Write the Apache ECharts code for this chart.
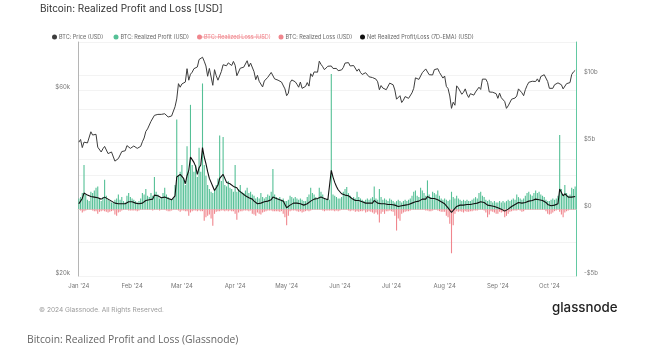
<!DOCTYPE html>
<html><head><meta charset="utf-8">
<script src="https://cdn.jsdelivr.net/npm/echarts@6/dist/echarts.min.js"></script>
<style>html,body{margin:0;padding:0;background:#fff;}#c{width:654px;height:361px;}</style>
</head><body><div id="c"></div>
<script>
// ---- data ----
const startDate = '2024-01-01';
const dayCount = 290; // Jan 1 .. Oct 16, 2024
const monthLabels = ["Jan '24","Feb '24","Mar '24","Apr '24","May '24","Jun '24","Jul '24","Aug '24","Sep '24","Oct '24"];
const priceTicks = [20, 60];          // $k, left log axis labels
const priceGrid = [20, 40, 60, 80];   // $k, left axis grid lines
const flowTicks = [-5, 0, 5, 10];     // $b, right axis labels

// BTC price ($k)
const price = [
44.2,44.9,42.8,44.2,44.2,44.0,43.9,47.0,46.1,46.6,46.3,42.9,42.8,41.7,42.5,43.1,42.7,41.3,41.6,41.7,41.6,39.5,39.8,40.1,40.0,41.8,42.1,42.0,43.3,42.9,42.6,
43.1,43.2,43.0,42.6,42.7,43.1,44.3,45.3,47.1,47.8,48.3,50.0,49.7,51.8,51.9,52.1,51.6,52.1,51.8,52.3,51.9,51.3,50.7,51.6,51.7,54.5,57.1,62.5,61.2,
62.4,62.0,63.1,68.3,63.8,66.1,66.9,68.3,68.5,69.0,72.1,71.5,73.1,71.4,69.4,65.3,68.4,67.6,61.9,67.9,65.5,63.8,64.0,67.2,69.9,69.9,69.5,70.7,69.9,69.6,71.3,
69.7,65.5,66.0,68.5,67.8,68.9,69.4,71.6,69.1,70.6,70.0,67.1,64.0,65.7,63.4,63.8,61.3,63.5,63.8,64.9,64.9,66.8,66.4,64.3,64.5,63.8,63.4,63.1,63.8,60.6,
58.2,59.1,62.9,63.9,64.0,63.2,62.3,61.2,63.1,60.8,60.8,61.5,62.9,61.6,66.3,65.2,67.0,67.0,66.9,71.4,70.1,69.1,67.9,68.5,69.3,68.5,69.4,68.4,67.6,68.4,67.5,
67.7,67.8,68.8,70.6,71.1,70.8,69.4,69.3,69.6,69.5,67.3,68.2,66.8,66.0,66.2,66.7,66.5,65.1,64.9,64.8,64.1,64.2,63.2,60.3,61.8,60.9,61.6,60.3,60.9,62.7,
62.9,62.1,60.2,57.0,56.7,58.2,55.9,56.7,57.9,57.7,57.3,57.9,59.2,60.8,64.7,65.0,64.1,63.9,66.7,67.2,68.2,67.6,65.9,65.4,65.8,67.9,68.2,68.3,66.8,66.2,64.6,
65.4,61.5,60.7,58.1,54.0,56.0,55.0,61.7,60.9,61.0,58.7,59.4,60.6,58.7,57.6,58.9,59.5,58.4,59.5,59.0,61.2,60.4,64.2,64.2,64.2,62.9,59.5,59.0,59.4,59.1,58.9,
57.3,59.1,57.5,58.0,56.2,54.0,54.8,54.9,57.0,57.6,57.4,58.1,60.6,60.0,59.2,58.2,60.3,61.8,63.0,63.2,63.4,63.6,63.3,64.3,63.1,65.2,65.8,65.9,65.6,63.3,
60.8,60.6,60.8,62.1,62.1,62.8,62.2,62.1,60.6,60.3,62.5,63.2,62.9,66.0,67.0,67.6
];

// Realized profit ($b)
const realizedProfit = [
0.8,0.9,1.2,3.3,1.1,0.7,0.6,1.3,1.2,1.4,1.6,1.7,0.8,0.6,0.9,2.2,1.0,0.7,0.6,0.5,0.5,0.7,0.8,1.1,0.7,0.9,0.6,0.5,1.0,1.2,0.9,
0.8,0.7,0.6,0.5,0.6,0.8,1.2,1.1,1.5,1.0,0.9,1.2,1.0,2.4,1.3,1.1,0.8,0.9,1.2,1.6,1.1,0.9,0.8,0.7,0.8,1.8,6.7,2.5,2.8,
3.3,2.3,1.8,4.7,2.8,7.8,3.3,2.8,3.3,2.4,4.6,2.8,9.4,3.3,2.5,1.8,1.5,1.3,1.2,1.5,1.8,2.3,5.5,2.1,5.4,1.8,1.7,2.1,1.6,1.5,1.3,
3.3,1.3,1.5,1.8,1.3,1.2,1.4,1.6,1.2,1.3,1.1,1.0,0.8,0.9,0.8,1.2,0.9,0.8,0.9,1.1,1.0,1.3,3.0,1.1,0.9,0.8,0.9,0.7,0.8,0.6,
0.6,0.7,1.0,0.9,0.8,0.9,0.8,0.7,0.8,0.7,0.6,0.6,0.9,1.1,1.6,1.2,1.1,0.9,0.8,1.6,1.3,1.1,0.8,0.7,0.8,0.7,10.1,1.1,1.0,0.9,0.8,
0.8,0.9,1.3,1.5,1.65,1.2,1.0,0.8,0.9,0.8,1.3,0.9,0.8,0.7,0.6,0.7,0.8,0.7,0.8,0.9,1.7,0.8,0.7,1.5,0.9,0.7,0.8,0.7,0.6,0.8,
0.7,0.6,0.5,0.6,0.7,0.6,0.5,0.6,0.7,0.6,0.7,0.8,1.0,1.3,1.4,1.0,0.9,1.6,1.4,1.2,1.0,2.15,1.1,0.9,1.3,1.2,1.1,1.4,1.0,0.8,0.7,
0.8,0.7,0.6,0.7,1.3,0.9,0.8,1.0,0.8,0.7,0.6,0.7,0.6,0.7,0.6,0.6,0.7,0.8,0.9,0.8,1.2,1.3,1.0,0.9,0.7,0.6,0.7,0.6,0.5,0.6,0.5,
0.5,0.6,0.5,0.6,0.5,0.6,0.7,0.6,0.7,0.8,0.7,1.1,0.9,0.8,0.7,0.8,1.0,1.2,1.3,1.1,1.0,1.2,1.4,1.2,1.3,1.1,1.0,0.9,0.7,0.6,
0.6,0.7,0.8,0.7,0.8,1.0,5.55,1.5,1.1,1.8,1.2,1.0,1.1,1.6,1.5,1.7
];

// Realized loss ($b, negative)
const realizedLoss = [
-0.05,-0.1,-0.25,-0.15,-0.1,-0.05,-0.05,-0.05,-0.1,-0.15,-0.15,-0.35,-0.2,-0.15,-0.1,-0.15,-0.2,-0.25,-0.2,-0.15,-0.1,-0.4,-0.5,-0.25,-0.2,-0.1,-0.05,-0.05,-0.05,-0.1,-0.1,
-0.1,-0.1,-0.1,-0.15,-0.1,-0.05,-0.05,-0.05,-0.05,-0.05,-0.05,-0.05,-0.1,-0.05,-0.05,-0.05,-0.1,-0.05,-0.05,-0.05,-0.1,-0.15,-0.15,-0.1,-0.05,-0.05,-0.05,-0.1,-0.2,
-0.1,-0.1,-0.15,-0.15,-0.5,-0.25,-0.15,-0.1,-0.1,-0.15,-0.1,-0.15,-0.15,-0.86,-0.6,-0.5,-0.4,-0.7,-1.25,-0.35,-0.2,-0.15,-0.15,-0.1,-0.1,-0.15,-0.1,-0.15,-0.1,-0.15,-0.15,
-0.35,-0.8,-0.25,-0.15,-0.15,-0.1,-0.1,-0.1,-0.15,-0.1,-0.35,-0.4,-0.5,-0.25,-0.35,-0.4,-0.25,-0.2,-0.15,-0.1,-0.1,-0.1,-0.15,-0.15,-0.15,-0.15,-0.2,-0.15,-0.35,-0.6,
-1.2,-0.5,-0.15,-0.1,-0.1,-0.1,-0.15,-0.2,-0.15,-0.25,-0.2,-0.15,-0.1,-0.15,-0.1,-0.05,-0.05,-0.05,-0.05,-0.05,-0.05,-0.1,-0.15,-0.1,-0.1,-0.1,-0.1,-0.1,-0.15,-0.1,-0.15,
-0.1,-0.05,-0.05,-0.05,-0.05,-0.1,-0.15,-0.1,-0.1,-0.2,-0.15,-0.2,-0.15,-0.15,-0.1,-0.25,-0.2,-0.15,-0.2,-0.25,-0.35,-0.25,-0.4,-1.0,-0.35,-0.2,-0.35,-0.15,-0.15,-0.1,
-0.15,-0.2,-0.5,-1.6,-0.7,-0.86,-0.35,-0.25,-0.2,-0.15,-0.15,-0.1,-0.05,-0.05,-0.05,-0.05,-0.05,-0.05,-0.05,-0.05,-0.1,-0.1,-0.15,-0.15,-0.1,-0.05,-0.05,-0.1,-0.15,-0.2,-0.2,
-0.2,-0.5,-0.6,-1.1,-3.3,-1.2,-0.35,-0.15,-0.2,-0.15,-0.2,-0.25,-0.15,-0.2,-0.2,-0.15,-0.15,-0.1,-0.1,-0.1,-0.05,-0.05,-0.05,-0.1,-0.25,-0.6,-0.4,-0.15,-0.2,-0.25,-0.35,
-0.35,-0.2,-0.25,-0.2,-0.6,-0.5,-0.35,-0.2,-0.15,-0.1,-0.1,-0.1,-0.05,-0.1,-0.2,-0.15,-0.05,-0.05,-0.05,-0.05,-0.05,-0.05,-0.05,-0.05,-0.05,-0.05,-0.05,-0.05,-0.15,-0.35,
-0.4,-0.35,-0.25,-0.15,-0.1,-0.05,-0.2,-0.4,-0.6,-0.25,-0.15,-0.1,-0.05,-0.05,-0.05,-0.05
];

// Net realized profit/loss, 7D EMA ($b)
const netRealizedEma = [
0.4,0.6,0.8,1.2,1.15,1.05,0.95,0.95,0.9,0.9,0.9,0.85,0.8,0.75,0.75,0.9,0.85,0.75,0.65,0.6,0.55,0.45,0.35,0.4,0.35,0.4,0.4,0.4,0.45,0.55,0.55,
0.55,0.5,0.45,0.4,0.4,0.4,0.45,0.5,0.65,0.7,0.7,0.75,0.75,1.05,1.05,1.0,0.9,0.85,0.8,0.9,0.9,0.8,0.75,0.7,0.65,1.0,2.4,2.5,2.6,
2.7,2.3,1.9,2.5,2.9,3.9,3.7,3.5,3.2,2.6,3.1,3.3,4.6,3.9,3.4,2.8,2.3,2.0,1.7,1.4,1.5,1.8,2.3,2.4,2.6,2.3,2.0,1.9,1.9,1.8,1.7,
1.7,1.6,1.4,1.3,1.2,1.1,1.0,0.9,0.85,0.8,0.75,0.6,0.5,0.4,0.4,0.45,0.5,0.55,0.6,0.6,0.6,0.7,0.9,0.85,0.8,0.75,0.7,0.65,0.6,0.5,
0.1,0.2,0.3,0.4,0.45,0.5,0.45,0.4,0.4,0.35,0.3,0.3,0.4,0.5,0.6,0.7,0.75,0.8,0.8,0.9,0.9,0.85,0.8,0.75,0.7,0.65,2.9,2.4,2.0,1.7,1.45,
1.3,1.15,1.1,1.05,1.1,1.0,0.9,0.8,0.75,0.65,0.7,0.65,0.6,0.55,0.5,0.45,0.45,0.45,0.45,0.45,0.65,0.55,0.45,0.4,0.4,0.4,0.4,0.4,0.35,0.4,
0.35,0.3,0.3,0.2,0.2,0.2,0.25,0.3,0.3,0.3,0.35,0.4,0.45,0.5,0.55,0.6,0.6,0.7,0.75,0.75,0.75,0.95,0.9,0.8,0.8,0.8,0.75,0.7,0.65,0.55,0.5,
0.4,0.3,0.1,0.0,-0.25,-0.1,0.05,0.2,0.25,0.3,0.3,0.3,0.3,0.35,0.35,0.35,0.35,0.4,0.45,0.45,0.5,0.55,0.55,0.5,0.4,0.3,0.25,0.25,0.2,0.2,0.15,
0.1,0.05,0.0,-0.05,-0.15,-0.1,0.0,0.1,0.2,0.3,0.35,0.45,0.5,0.5,0.45,0.45,0.5,0.6,0.6,0.65,0.65,0.7,0.75,0.75,0.7,0.65,0.65,0.6,0.5,0.35,
0.3,0.25,0.25,0.3,0.35,0.4,1.5,1.25,1.0,1.15,1.05,0.9,0.85,0.9,0.9,0.95
];

// ---- categories (dates) ----
const dates = [];
{
  const d0 = new Date(startDate + 'T00:00:00Z');
  for (let i = 0; i < dayCount; i++) {
    dates.push(new Date(d0.getTime() + i * 86400000).toISOString().slice(0, 10));
  }
}

const FONT = 'Inter, "Noto Sans", sans-serif';
const GREEN = '#55c096';
const RED = '#f0868d';
const LEGEND_TEXT = {fontFamily: FONT, fontSize: 5.5, color: '#666', padding: [0, 0, 0, -3]};

function legendItem(name, left, extra) {
  return Object.assign({
    top: 34, left: left, padding: 0, icon: 'circle', itemWidth: 5, itemHeight: 5,
    textStyle: LEGEND_TEXT, inactiveColor: RED, data: [name],
    formatter: n => n === 'lossHidden' ? 'BTC: Realized Loss (USD)' : n
  }, extra || {});
}

const chart = echarts.init(document.getElementById('c'), null, {renderer: 'canvas'});
chart.setOption({
  animation: false,
  backgroundColor: '#fff',
  title: {
    text: 'Bitcoin: Realized Profit and Loss [USD]',
    left: 40, top: 4, padding: 0,
    textStyle: {fontFamily: FONT, fontSize: 10, fontWeight: 'normal', color: '#333'}
  },
  legend: [
    legendItem('BTC: Price (USD)', 52),
    legendItem('BTC: Realized Profit (USD)', 113.5),
    legendItem('lossHidden', 197, {selected: {lossHidden: false}}),
    legendItem('BTC: Realized Loss (USD)', 278.5),
    legendItem('Net Realized Profit/Loss (7D-EMA) (USD)', 360)
  ],
  grid: {left: 78, right: 78, top: 42, bottom: 85},
  xAxis: {
    type: 'category',
    data: dates,
    axisLine: {lineStyle: {color: '#e4e4e4'}},
    axisTick: {show: false},
    axisLabel: {
      interval: (i, v) => v.slice(8) === '01',
      formatter: v => monthLabels[parseInt(v.slice(5, 7), 10) - 1],
      fontFamily: FONT, fontSize: 6, color: '#777', margin: 7
    }
  },
  yAxis: [
    {
      type: 'log', position: 'left', min: 20, max: 80,
      axisLine: {show: true, lineStyle: {color: '#b5b5b5'}},
      axisTick: {show: false, customValues: priceGrid},
      splitLine: {show: true, lineStyle: {color: '#f3f3f3'}},
      axisLabel: {customValues: priceTicks, formatter: v => '$' + Math.round(v) + 'k',
        fontFamily: FONT, fontSize: 6, color: '#777', margin: 8, verticalAlign: 'bottom'}
    },
    {
      type: 'value', position: 'right', min: -5, max: 12.5, interval: 2.5,
      axisLine: {show: true, lineStyle: {color: '#62c9a2'}},
      axisTick: {show: false},
      splitLine: {show: true, lineStyle: {color: '#f3f3f3', width: 1}},
      axisLabel: {
        formatter: v => flowTicks.indexOf(v) < 0 ? '' : (v < 0 ? '-$' + (-v) + 'b' : (v === 0 ? '$0' : '$' + v + 'b')),
        fontFamily: FONT, fontSize: 6, color: '#777', margin: 8, verticalAlign: 'bottom'
      }
    }
  ],
  series: [
    {name: 'BTC: Price (USD)', type: 'line', yAxisIndex: 0, data: price, showSymbol: false,
      lineStyle: {color: '#3d3d3d', width: 1}, itemStyle: {color: '#3d3d3d'}, z: 4},
    {name: 'BTC: Realized Profit (USD)', type: 'bar', yAxisIndex: 1, data: realizedProfit,
      barWidth: 1.1, barGap: '-100%', itemStyle: {color: GREEN}, z: 2},
    {name: 'lossHidden', type: 'bar', yAxisIndex: 1, data: realizedLoss,
      barWidth: 1.1, barGap: '-100%', itemStyle: {color: RED}, z: 2},
    {name: 'BTC: Realized Loss (USD)', type: 'bar', yAxisIndex: 1, data: realizedLoss,
      barWidth: 1.1, barGap: '-100%', itemStyle: {color: RED}, z: 2},
    {name: 'Net Realized Profit/Loss (7D-EMA) (USD)', type: 'line', yAxisIndex: 1, data: netRealizedEma,
      showSymbol: false, lineStyle: {color: '#111', width: 1.1}, itemStyle: {color: '#111'}, z: 3}
  ],
  graphic: [
    {type: 'line', shape: {x1: 202, y1: 37, x2: 265, y2: 37}, style: {stroke: RED, lineWidth: 0.7}, z: 100},
    {type: 'text', left: 39, top: 306.5, style: {text: '\u00a9 2024 Glassnode. All Rights Reserved.', font: '6.6px ' + FONT, fill: '#999'}},
    {type: 'text', left: 552, top: 301, style: {text: 'glassnode', font: '500 13.3px ' + FONT, fill: '#222'}},
    {type: 'text', left: 27, top: 335.5, style: {text: 'Bitcoin: Realized Profit and Loss (Glassnode)', font: '10.3px "Open Sans", sans-serif', fill: '#666'}}
  ]
});
</script>
</body></html>
